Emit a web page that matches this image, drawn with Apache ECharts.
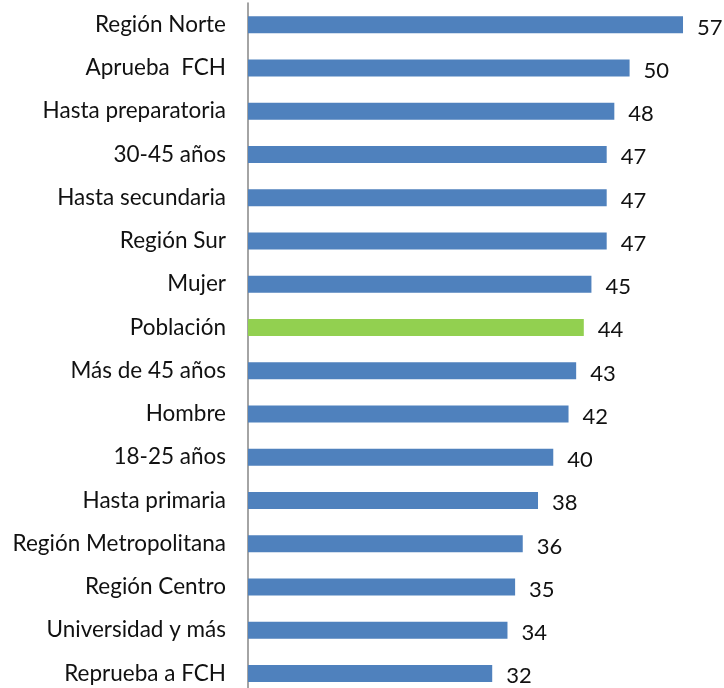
<!DOCTYPE html>
<html>
<head>
<meta charset="UTF-8">
<title>Encuesta</title>
<script src="https://cdn.jsdelivr.net/npm/echarts@6/dist/echarts.min.js"></script>
<style>
  html, body { margin: 0; padding: 0; background: #fff; }
</style>
</head>
<body>
<div id="main" style="width: 724px; height: 688px;"></div>
<script type="text/javascript">
// categorías (de arriba hacia abajo)
var categories = [
  'Región Norte', 'Aprueba  FCH', 'Hasta preparatoria', '30-45 años',
  'Hasta secundaria', 'Región Sur', 'Mujer', 'Población',
  'Más de 45 años', 'Hombre', '18-25 años', 'Hasta primaria',
  'Región Metropolitana', 'Región Centro', 'Universidad y más', 'Reprueba a FCH'
];
var values = [57, 50, 48, 47, 47, 47, 45, 44, 43, 42, 40, 38, 36, 35, 34, 32];
var highlight = 'Población';

var blue = '#4F81BD';
var green = '#92D050';

var myChart = echarts.init(document.getElementById('main'));

var option = {
  animation: false,
  grid: {
    left: 248,
    right: 20,
    top: 3,
    bottom: -7,
    outerBoundsMode: 'none'
  },
  xAxis: {
    type: 'value',
    min: 0,
    max: 59.75,
    show: false
  },
  yAxis: {
    type: 'category',
    inverse: true,
    data: categories,
    axisLine: { show: true, lineStyle: { color: '#868686', width: 1.5 } },
    axisTick: { show: false },
    axisLabel: {
      margin: 22,
      fontFamily: 'Lato',
      fontSize: 22.5,
      color: '#111'
    }
  },
  series: [{
    type: 'bar',
    barWidth: 17,
    data: values.map(function (v, i) {
      return {
        value: v,
        itemStyle: { color: categories[i] === highlight ? green : blue }
      };
    }),
    label: {
      show: true,
      position: 'right',
      distance: 14,
      offset: [0, 3],
      fontFamily: 'Lato',
      fontSize: 22,
      color: '#111'
    }
  }]
};

myChart.setOption(option);
</script>
</body>
</html>
